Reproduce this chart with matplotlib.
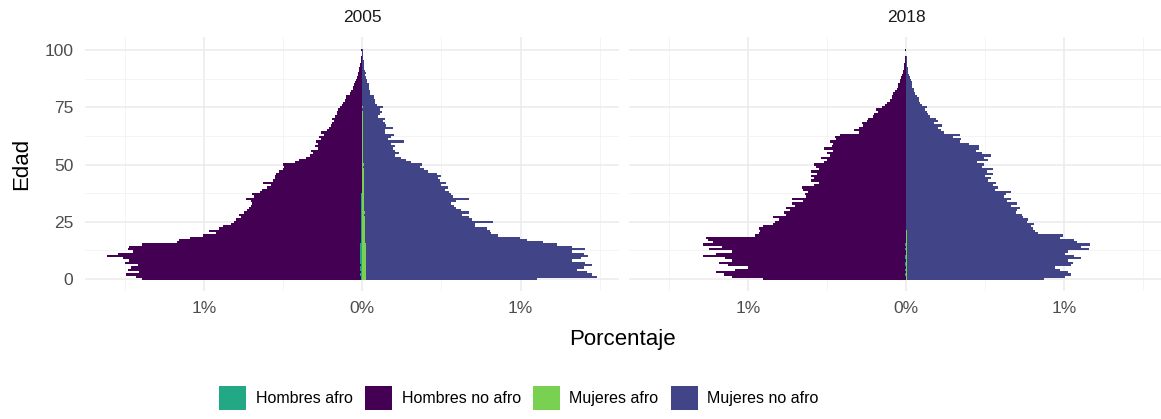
import numpy as np
import matplotlib
matplotlib.use("Agg")
import matplotlib.pyplot as plt
from matplotlib.patches import Patch

plt.rcParams['font.family'] = ['Liberation Sans', 'DejaVu Sans']

# ages 0..100
ages = np.arange(101)

# % of population, 2005 (absolute values, men drawn to the left)
hombres_no_afro_2005 = [
    1.38, 1.42, 1.48, 1.40, 1.47, 1.45, 1.41, 1.49, 1.46, 1.50,
    1.60, 1.53, 1.44, 1.47, 1.46, 1.38, 1.16, 1.15, 1.08, 1.00,
    0.92, 0.96, 0.90, 0.87, 0.82, 0.80, 0.79, 0.76, 0.77, 0.74,
    0.72, 0.71, 0.70, 0.69, 0.70, 0.73, 0.68, 0.69, 0.64, 0.63,
    0.60, 0.57, 0.62, 0.56, 0.55, 0.55, 0.54, 0.52, 0.50, 0.49,
    0.50, 0.42, 0.40, 0.35, 0.33, 0.31, 0.32, 0.28, 0.30, 0.28,
    0.29, 0.26, 0.27, 0.24, 0.26, 0.22, 0.21, 0.20, 0.19, 0.18,
    0.19, 0.17, 0.16, 0.16, 0.15, 0.14, 0.13, 0.12, 0.11, 0.10,
    0.10, 0.08, 0.07, 0.06, 0.06, 0.05, 0.045, 0.04, 0.035, 0.03,
    0.03, 0.02, 0.02, 0.015, 0.012, 0.01, 0.008, 0.006, 0.005, 0.004, 0.006]
mujeres_no_afro_2005 = [
    1.08, 1.46, 1.43, 1.40, 1.33, 1.38, 1.43, 1.38, 1.30, 1.36,
    1.40, 1.38, 1.30, 1.38, 1.30, 1.21, 1.12, 1.02, 0.98, 0.84,
    0.80, 0.79, 0.77, 0.70, 0.70, 0.81, 0.68, 0.66, 0.62, 0.66,
    0.61, 0.58, 0.57, 0.55, 0.58, 0.66, 0.56, 0.55, 0.54, 0.51,
    0.53, 0.49, 0.52, 0.48, 0.47, 0.49, 0.46, 0.41, 0.38, 0.36,
    0.37, 0.30, 0.27, 0.24, 0.20, 0.23, 0.20, 0.19, 0.20, 0.18,
    0.26, 0.16, 0.18, 0.20, 0.14, 0.14, 0.19, 0.15, 0.14, 0.13,
    0.14, 0.10, 0.11, 0.12, 0.11, 0.13, 0.09, 0.08, 0.08, 0.07,
    0.07, 0.05, 0.05, 0.04, 0.04, 0.04, 0.03, 0.03, 0.025, 0.02,
    0.025, 0.015, 0.012, 0.01, 0.01, 0.008, 0.006, 0.005, 0.004, 0.003, 0.005]
hombres_afro_2005 = [
    0.010, 0.011, 0.012, 0.011, 0.012, 0.012, 0.011, 0.012, 0.012, 0.013,
    0.013, 0.012, 0.012, 0.013, 0.012, 0.012, 0.010, 0.010, 0.009, 0.009,
    0.008, 0.009, 0.008, 0.008, 0.008, 0.008, 0.007, 0.007, 0.007, 0.007,
    0.007, 0.006, 0.006, 0.006, 0.006, 0.007, 0.006, 0.006, 0.005, 0.005,
    0.005, 0.005, 0.005, 0.005, 0.004, 0.005, 0.004, 0.004, 0.004, 0.004,
    0.004, 0.003, 0.003, 0.003, 0.003, 0.003, 0.003, 0.002, 0.002, 0.002,
    0.002, 0.002, 0.002, 0.002, 0.002, 0.002, 0.001, 0.001, 0.001, 0.001,
    0.001, 0.001, 0.001, 0.001, 0.001, 0.001, 0.001, 0.001, 0.001, 0.001,
    0.001, 0.0, 0.0, 0.0, 0.0, 0.0, 0.0, 0.0, 0.0, 0.0,
    0.0, 0.0, 0.0, 0.0, 0.0, 0.0, 0.0, 0.0, 0.0, 0.0, 0.0]
mujeres_afro_2005 = [
    0.022, 0.024, 0.025, 0.023, 0.025, 0.024, 0.023, 0.025, 0.024, 0.025,
    0.026, 0.024, 0.023, 0.025, 0.024, 0.022, 0.020, 0.019, 0.018, 0.017,
    0.016, 0.017, 0.016, 0.015, 0.015, 0.016, 0.014, 0.014, 0.013, 0.014,
    0.013, 0.012, 0.012, 0.012, 0.012, 0.013, 0.011, 0.011, 0.011, 0.010,
    0.011, 0.010, 0.010, 0.009, 0.009, 0.010, 0.009, 0.008, 0.008, 0.007,
    0.008, 0.006, 0.006, 0.005, 0.005, 0.005, 0.004, 0.004, 0.004, 0.004,
    0.005, 0.003, 0.003, 0.003, 0.003, 0.003, 0.003, 0.002, 0.002, 0.002,
    0.002, 0.002, 0.002, 0.002, 0.001, 0.002, 0.001, 0.001, 0.001, 0.001,
    0.001, 0.001, 0.0, 0.0, 0.0, 0.0, 0.0, 0.0, 0.0, 0.0,
    0.0, 0.0, 0.0, 0.0, 0.0, 0.0, 0.0, 0.0, 0.0, 0.0, 0.0]

# % of population, 2018
hombres_no_afro_2018 = [
    0.90, 1.10, 1.15, 1.20, 1.08, 1.00, 1.12, 1.18, 1.10, 1.14,
    1.28, 1.20, 1.10, 1.24, 1.16, 1.28, 1.22, 1.25, 1.26, 0.95,
    0.93, 0.92, 0.93, 0.90, 0.84, 0.83, 0.80, 0.84, 0.76, 0.77,
    0.73, 0.76, 0.70, 0.72, 0.65, 0.72, 0.63, 0.64, 0.62, 0.65,
    0.66, 0.58, 0.55, 0.60, 0.58, 0.60, 0.56, 0.60, 0.55, 0.57,
    0.58, 0.52, 0.50, 0.54, 0.48, 0.50, 0.46, 0.52, 0.47, 0.46,
    0.48, 0.44, 0.45, 0.42, 0.30, 0.33, 0.30, 0.27, 0.28, 0.25,
    0.24, 0.21, 0.20, 0.18, 0.19, 0.15, 0.13, 0.12, 0.10, 0.09,
    0.09, 0.08, 0.07, 0.06, 0.05, 0.05, 0.04, 0.035, 0.03, 0.025,
    0.02, 0.018, 0.015, 0.012, 0.01, 0.008, 0.006, 0.004, 0.003, 0.002, 0.004]
mujeres_no_afro_2018 = [
    0.87, 1.00, 1.04, 1.02, 0.97, 0.94, 1.04, 1.05, 1.02, 1.10,
    1.06, 1.00, 1.02, 1.15, 1.10, 1.16, 1.08, 1.06, 0.97, 0.99,
    0.83, 0.81, 0.80, 0.79, 0.81, 0.76, 0.77, 0.74, 0.73, 0.69,
    0.70, 0.72, 0.66, 0.70, 0.64, 0.66, 0.62, 0.63, 0.66, 0.56,
    0.58, 0.55, 0.57, 0.52, 0.54, 0.50, 0.55, 0.51, 0.55, 0.48,
    0.49, 0.45, 0.52, 0.49, 0.54, 0.48, 0.44, 0.46, 0.46, 0.40,
    0.34, 0.35, 0.30, 0.34, 0.24, 0.22, 0.20, 0.23, 0.18, 0.20,
    0.19, 0.15, 0.14, 0.13, 0.12, 0.13, 0.10, 0.09, 0.08, 0.08,
    0.07, 0.06, 0.05, 0.05, 0.04, 0.04, 0.035, 0.03, 0.025, 0.02,
    0.015, 0.012, 0.01, 0.008, 0.007, 0.006, 0.005, 0.004, 0.003, 0.002, 0.003]
hombres_afro_2018 = [
    0.003, 0.003, 0.004, 0.003, 0.004, 0.003, 0.004, 0.004, 0.003, 0.004,
    0.004, 0.003, 0.003, 0.004, 0.003, 0.004, 0.003, 0.003, 0.003, 0.003,
    0.002, 0.003, 0.002, 0.002, 0.002, 0.002, 0.002, 0.002, 0.002, 0.002,
    0.002, 0.002, 0.002, 0.002, 0.001, 0.002, 0.001, 0.001, 0.001, 0.001,
    0.001, 0.001, 0.001, 0.001, 0.001, 0.001, 0.001, 0.001, 0.001, 0.001,
    0.001, 0.001, 0.001, 0.001, 0.001, 0.001, 0.0, 0.0, 0.0, 0.0,
    0.0, 0.0, 0.0, 0.0, 0.0, 0.0, 0.0, 0.0, 0.0, 0.0,
    0.0, 0.0, 0.0, 0.0, 0.0, 0.0, 0.0, 0.0, 0.0, 0.0,
    0.0, 0.0, 0.0, 0.0, 0.0, 0.0, 0.0, 0.0, 0.0, 0.0,
    0.0, 0.0, 0.0, 0.0, 0.0, 0.0, 0.0, 0.0, 0.0, 0.0, 0.0]
mujeres_afro_2018 = [
    0.005, 0.005, 0.006, 0.005, 0.006, 0.005, 0.006, 0.005, 0.005, 0.006,
    0.006, 0.005, 0.005, 0.006, 0.005, 0.005, 0.005, 0.004, 0.004, 0.004,
    0.004, 0.004, 0.003, 0.003, 0.003, 0.003, 0.003, 0.003, 0.003, 0.003,
    0.003, 0.002, 0.002, 0.002, 0.002, 0.002, 0.002, 0.002, 0.002, 0.002,
    0.002, 0.002, 0.002, 0.002, 0.001, 0.002, 0.001, 0.001, 0.001, 0.001,
    0.001, 0.001, 0.001, 0.001, 0.001, 0.001, 0.001, 0.001, 0.0, 0.0,
    0.0, 0.0, 0.0, 0.0, 0.0, 0.0, 0.0, 0.0, 0.0, 0.0,
    0.0, 0.0, 0.0, 0.0, 0.0, 0.0, 0.0, 0.0, 0.0, 0.0,
    0.0, 0.0, 0.0, 0.0, 0.0, 0.0, 0.0, 0.0, 0.0, 0.0,
    0.0, 0.0, 0.0, 0.0, 0.0, 0.0, 0.0, 0.0, 0.0, 0.0, 0.0]

years = ["2005", "2018"]
series = {
    "2005": (hombres_afro_2005, hombres_no_afro_2005, mujeres_afro_2005, mujeres_no_afro_2005),
    "2018": (hombres_afro_2018, hombres_no_afro_2018, mujeres_afro_2018, mujeres_no_afro_2018),
}
labels = ["Hombres afro", "Hombres no afro", "Mujeres afro", "Mujeres no afro"]
colors = ["#22A884", "#440154", "#7AD151", "#414487"]

W, H = 1161, 419
fig = plt.figure(figsize=(W / 100, H / 100), dpi=100)


def px_axes(x0, y0, x1, y1):
    return fig.add_axes([x0 / W, 1 - y1 / H, (x1 - x0) / W, (y1 - y0) / H])


panels = [(85, 618.6), (629, 1162)]
strip_x = [362, 906]
top, bottom = 37.5, 291.5

for i, year in enumerate(years):
    ha, hno, ma, mno = [np.array(s) for s in series[year]]
    ax = px_axes(panels[i][0], top, panels[i][1], bottom)

    ax.barh(ages, -ha, height=1.0, color=colors[0], linewidth=0)
    ax.barh(ages, -hno, left=-ha, height=1.0, color=colors[1], linewidth=0)
    ax.barh(ages, ma, height=1.0, color=colors[2], linewidth=0)
    ax.barh(ages, mno, left=ma, height=1.0, color=colors[3], linewidth=0)

    ax.set_xlim(-1.753, 1.62)
    ax.set_ylim(-5.49, 105.5)
    ax.set_xticks([-1, 0, 1])
    ax.set_xticks([-1.5, -0.5, 0.5, 1.5], minor=True)
    ax.set_xticklabels(["1%", "0%", "1%"])
    ax.set_yticks([0, 25, 50, 75, 100])
    ax.set_yticks([12.5, 37.5, 62.5, 87.5], minor=True)
    if i > 0:
        ax.set_yticklabels([])
    ax.grid(which="major", color="#EBEBEB", linewidth=1.1)
    ax.grid(which="minor", color="#F2F2F2", linewidth=0.6)
    ax.set_axisbelow(True)
    for sp in ax.spines.values():
        sp.set_visible(False)
    ax.tick_params(which="both", length=0, labelsize=12.5, labelcolor="#4D4D4D")
    ax.tick_params(axis="x", pad=7)
    ax.tick_params(axis="y", pad=8.5)

    fig.text(strip_x[i] / W, 1 - 18 / H, year, ha="center", va="center",
             fontsize=12.5, color="#1A1A1A")

fig.text(22 / W, 1 - 164 / H, "Edad", rotation=90, ha="center", va="center", fontsize=16)
fig.text(622 / W, 1 - 340 / H, "Porcentaje", ha="center", va="center", fontsize=16)

handles = [Patch(facecolor=c, edgecolor="none") for c in colors]
fig.legend(handles, labels, loc="center", bbox_to_anchor=(519 / W, 1 - 398 / H), ncol=4,
           frameon=False, fontsize=11.5, handlelength=1.7, handleheight=1.9,
           handletextpad=0.6, columnspacing=0.75)

fig.savefig("out.png", dpi=100)
